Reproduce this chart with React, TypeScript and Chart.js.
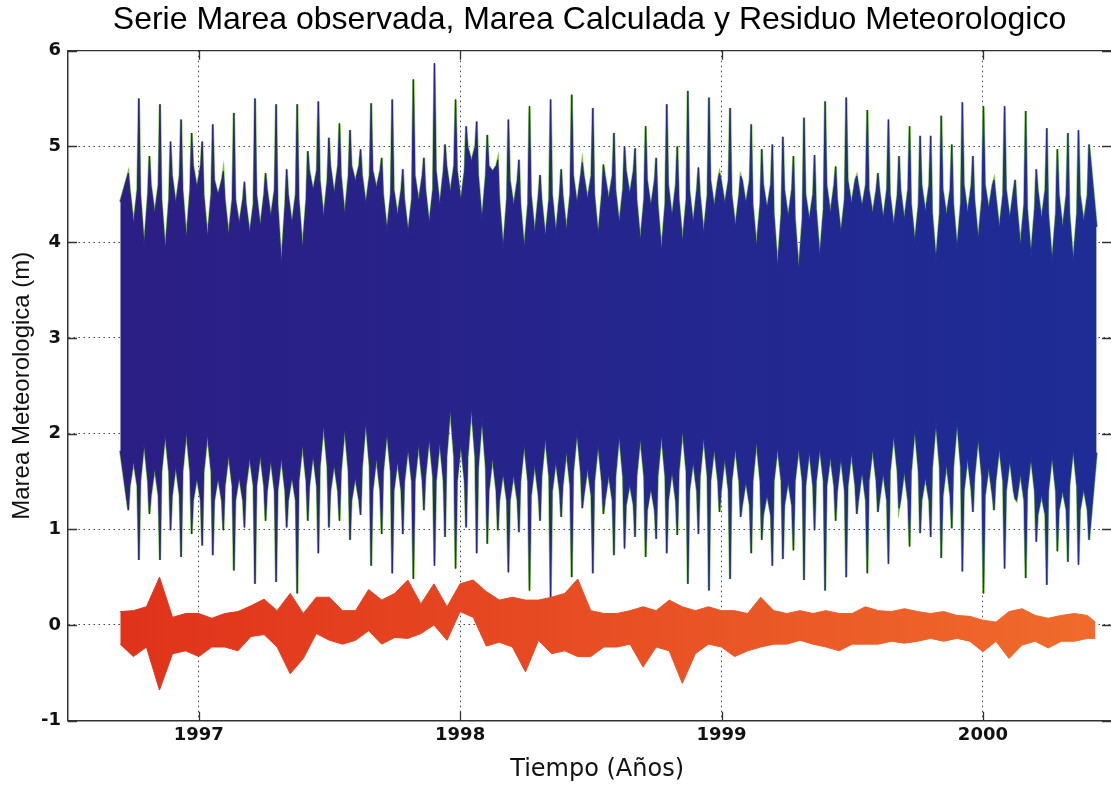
import { useEffect, useRef } from 'react';
import { Chart, registerables } from 'chart.js';

Chart.register(...registerables);

const TITLE = 'Serie Marea observada, Marea Calculada y Residuo Meteorologico';
const X_TITLE = 'Tiempo (Años)';
const Y_TITLE = 'Marea Meteorologica (m)';
const X_TICKS = [1997, 1998, 1999, 2000];
const Y_TICKS = [-1, 0, 1, 2, 3, 4, 5, 6];

// Observed tide (envelope of the dense record): spring-tide extremes, neap notches
// and the body level beside each spike
const TIDE_START = 1996.70;
const TIDE_END = 2000.435;
const FIRST_SPRING = 1996.7307;
const SPRING_STEP = 0.040388;
const HIGH_START = 4.42;
const HIGH_END = 4.16;
const LOW_START = 1.82;
const LOW_END = 1.8;

const highPeaks = [
  4.72, 5.5, 4.9, 5.44, 5.05, 5.28, 5.14, 5.05, 5.23, 4.74, 5.35, 4.63, 5.5, 4.72, 5.44, 4.76, 5.44, 4.95,
  5.47, 5.09, 5.24, 5.17, 4.97, 5.45, 4.88, 5.49, 4.76, 5.7, 4.88, 5.87, 5.02, 5.49, 5.21, 5.26, 5.12, 4.86,
  5.28, 4.86, 5.42, 4.7, 5.49, 4.76, 5.54, 4.83, 5.4, 4.81, 5.14, 5.0, 4.98, 5.21, 4.88, 5.44, 5.0, 5.58,
  4.78, 5.51, 4.72, 5.4, 4.69, 5.23, 4.97, 5.02, 5.1, 4.9, 5.3, 4.91, 5.47, 4.79, 5.51, 4.69, 5.38,
  4.72, 5.28, 4.9, 5.21, 5.11, 5.11, 5.32, 5.02, 5.46, 4.9, 5.42, 4.65, 5.42, 4.65, 5.37, 4.76, 5.19, 4.97,
  5.14, 5.17, 5.02,
];
const highNotches = [
  4.18, 3.95, 4.29, 3.9, 4.39, 4.02, 4.56, 4.04, 4.49, 4.06, 4.18, 4.08, 4.15, 4.25, 3.76, 4.18, 3.92, 4.53,
  4.25, 4.49, 4.27, 4.63, 4.39, 4.56, 4.11, 4.27, 4.09, 4.42, 4.18, 4.37, 4.51, 4.42, 4.84, 4.22, 4.74,
  3.92,
  4.37, 3.92, 4.08, 4.04, 4.08, 4.11, 4.39, 4.44, 4.06, 4.44, 4.18, 4.49, 4.0, 4.36, 3.9, 4.25, 3.99, 4.18,
  4.08, 4.36, 4.39, 4.15, 4.39, 3.94, 4.34, 3.73, 4.25, 3.69, 4.22, 3.83, 4.29, 4.08, 4.39, 4.36, 4.29,
  4.23, 4.16, 4.22, 3.99, 4.3, 3.8, 4.27, 3.92, 4.29, 4.01, 4.34, 4.13, 4.23, 3.95, 3.85, 4.23, 3.78, 4.13,
  3.78, 4.2,
];
const highShoulders = [
  4.55, 4.5, 4.6, 4.45, 4.7, 4.55, 4.8, 4.5, 4.65, 4.45, 4.45, 4.4, 4.5, 4.55, 4.4, 4.5, 4.45, 4.75,
  4.65, 4.8, 4.7, 4.8, 4.7, 4.75, 4.5, 4.55, 4.45, 4.7, 4.55, 4.75, 4.8, 4.75, 5.0, 4.7, 4.8,
  4.45,
  4.65, 4.4, 4.5, 4.45, 4.5, 4.5, 4.7, 4.7, 4.5, 4.7, 4.55, 4.75, 4.45, 4.65, 4.4, 4.6, 4.45, 4.55,
  4.5, 4.65, 4.65, 4.5, 4.65, 4.4, 4.6, 4.3, 4.55, 4.25, 4.5, 4.35, 4.6, 4.45, 4.65, 4.6, 4.55,
  4.55, 4.5, 4.55, 4.4, 4.6, 4.3, 4.55, 4.4, 4.6, 4.45, 4.6, 4.5, 4.55, 4.4, 4.35, 4.55, 4.3, 4.5,
  4.3, 4.5,
];
const lowPeaks = [
  1.2, 0.68, 1.16, 0.68, 0.99, 0.71, 0.95, 0.83, 0.73, 0.99, 0.57, 1.02, 0.43, 1.09, 0.45, 1.02, 0.33, 1.09,
  0.75, 1.02, 1.09, 0.89, 1.15, 0.62, 0.95, 0.54, 0.95, 0.48, 1.2, 0.62, 0.92, 0.59, 1.02, 0.75, 0.85, 0.99,
  0.55, 0.97, 0.36, 1.09, 0.26, 1.13, 0.5, 1.22, 0.54, 1.16, 0.73, 0.8, 0.92, 0.71, 0.9, 0.75, 0.94, 0.43,
  0.95, 0.36, 1.18, 0.48, 1.13, 0.75, 0.89, 0.62, 0.69, 0.78, 0.47, 0.99, 0.36, 1.09, 0.5, 1.16, 0.54,
  1.18, 0.64, 1.22, 0.82, 0.96, 0.92, 0.7, 1.01, 0.56, 1.18, 0.33, 1.2, 0.59, 1.32, 0.49, 0.87, 0.42, 0.77,
  0.66, 0.63, 0.89,
];
const lowNotches = [
  1.72, 1.91, 1.65, 2.0, 1.67, 2.03, 1.55, 2.0, 1.55, 1.79, 1.56, 1.76, 1.79, 1.74, 1.76, 1.56, 1.9, 1.79,
  2.1, 1.69, 2.07, 1.55, 2.14, 1.76, 2.03, 1.72, 1.86, 1.9, 1.97, 1.93, 2.28, 1.9, 2.28, 2.17, 1.76,
  1.6,
  1.58, 1.9, 1.69, 1.97, 1.72, 1.83, 2.03, 1.65, 1.9, 1.58, 2.0, 1.48, 1.97, 1.44, 2.0, 1.62, 2.05, 1.72,
  1.98, 1.86, 1.76, 1.86, 1.51, 1.93, 1.37, 1.86, 1.51, 1.86, 1.83, 1.86, 1.77, 1.76, 1.81, 1.62, 1.85,
  1.6, 2.0, 1.62, 2.06, 1.55, 2.13, 1.69, 2.14, 1.76, 1.97, 1.66, 1.86, 1.74, 1.59, 1.76, 1.36, 1.78, 1.41,
  1.85, 1.43,
];
const lowShoulders = [
  1.45, 1.5, 1.35, 1.6, 1.35, 1.6, 1.3, 1.6, 1.3, 1.45, 1.3, 1.45, 1.45, 1.4, 1.4, 1.3, 1.5, 1.45,
  1.65, 1.4, 1.6, 1.3, 1.65, 1.4, 1.6, 1.4, 1.5, 1.5, 1.55, 1.5, 1.75, 1.5, 1.75, 1.65, 1.4,
  1.3,
  1.3, 1.5, 1.35, 1.55, 1.4, 1.45, 1.6, 1.35, 1.5, 1.3, 1.55, 1.25, 1.55, 1.2, 1.55, 1.3, 1.6, 1.4,
  1.55, 1.5, 1.4, 1.5, 1.25, 1.5, 1.15, 1.5, 1.25, 1.5, 1.45, 1.5, 1.45, 1.4, 1.45, 1.3, 1.5,
  1.3, 1.6, 1.3, 1.6, 1.3, 1.65, 1.35, 1.65, 1.4, 1.55, 1.35, 1.5, 1.4, 1.3, 1.4, 1.15, 1.4, 1.2,
  1.45, 1.2,
];

// Meteorological residual (band edges), sampled every 0.05 year from 1996.70
const RES_START = 1996.7;
const RES_STEP = 0.05;
const RES_END_T = 2000.43;
const residualHigh = [
  0.14, 0.15, 0.19, 0.5, 0.08, 0.12, 0.12, 0.07, 0.12, 0.14, 0.2, 0.27, 0.15, 0.33, 0.12, 0.29, 0.29, 0.15,
  0.15, 0.37, 0.26, 0.33, 0.47, 0.22, 0.43, 0.19, 0.43, 0.47, 0.35, 0.26, 0.29, 0.26, 0.26, 0.29, 0.33, 0.48,
  0.15, 0.12, 0.12, 0.15, 0.19, 0.15, 0.26, 0.19, 0.15, 0.19, 0.15, 0.15, 0.12, 0.29, 0.15, 0.12, 0.15, 0.12,
  0.15, 0.12, 0.12, 0.19, 0.15, 0.14, 0.17, 0.14, 0.12, 0.14, 0.1, 0.09, 0.05, 0.03, 0.14, 0.17, 0.1, 0.07,
  0.1, 0.12, 0.1,
];
const residualLow = [
  -0.2, -0.33, -0.23, -0.68, -0.3, -0.27, -0.33, -0.23, -0.23, -0.27, -0.12, -0.1, -0.23, -0.51, -0.35, -0.09,
  -0.16, -0.2, -0.16, -0.06, -0.2, -0.13, -0.14, -0.09, 0.0, -0.16, 0.14, 0.08, -0.22, -0.18, -0.23, -0.49,
  -0.16, -0.3, -0.27, -0.33, -0.33, -0.23, -0.23, -0.2, -0.44, -0.23, -0.27, -0.61, -0.3, -0.2, -0.23, -0.33,
  -0.27, -0.23, -0.2, -0.2, -0.16, -0.2, -0.23, -0.27, -0.2, -0.2, -0.2, -0.17, -0.19, -0.17, -0.14, -0.17,
  -0.14, -0.17, -0.28, -0.17, -0.35, -0.21, -0.17, -0.24, -0.17, -0.17, -0.14,
];
const RES_END_HIGH = 0.03;
const RES_END_LOW = -0.14;

// fraction of a spring-neap half cycle taken by half a spike
const SPIKE_HALF = 0.13;

function envelope(start: number, peaks: number[], notches: number[], shoulders: number[], end: number) {
  const pts: { x: number; y: number }[] = [{ x: TIDE_START, y: start }];
  peaks.forEach((p, i) => {
    const t = FIRST_SPRING + i * SPRING_STEP;
    pts.push({ x: t, y: p });
    if (i < notches.length) {
      const s = shoulders[i];
      pts.push({ x: t + SPIKE_HALF * SPRING_STEP, y: s });
      pts.push({ x: t + 0.5 * SPRING_STEP, y: notches[i] });
      pts.push({ x: t + (1 - SPIKE_HALF) * SPRING_STEP, y: s });
    }
  });
  pts.push({ x: TIDE_END, y: end });
  return pts;
}

function residual(vals: number[], end: number) {
  const pts = vals.map((v, i) => ({ x: RES_START + i * RES_STEP, y: v }));
  pts.push({ x: RES_END_T, y: end });
  return pts;
}

function grad(from: string, to: string) {
  return (c: any) => {
    const ch = c.chart;
    const area = ch.chartArea;
    if (!area) return from;
    const g = ch.ctx.createLinearGradient(area.left + 50, 0, area.right - 10, 0);
    g.addColorStop(0, from);
    g.addColorStop(1, to);
    return g;
  };
}

const framePlugin = {
  id: 'frame',
  afterDatasetsDraw(chart: any) {
    const { ctx, chartArea, scales } = chart;
    const { left, right, top, bottom } = chartArea;
    ctx.save();
    ctx.strokeStyle = '#333';
    ctx.lineWidth = 1.3;
    ctx.beginPath();
    ctx.moveTo(left, top);
    ctx.lineTo(right, top);
    X_TICKS.forEach((v) => {
      const px = Math.round(scales.x.getPixelForValue(v)) + 0.5;
      ctx.moveTo(px, bottom);
      ctx.lineTo(px, bottom - 9);
      ctx.moveTo(px, top);
      ctx.lineTo(px, top + 9);
    });
    Y_TICKS.forEach((v) => {
      const py = Math.round(scales.y.getPixelForValue(v)) + 0.5;
      ctx.moveTo(left, py);
      ctx.lineTo(left + 9, py);
      ctx.moveTo(right, py);
      ctx.lineTo(right - 9, py);
    });
    ctx.stroke();
    ctx.restore();
  },
};

export default function App() {
  const ref = useRef<HTMLCanvasElement | null>(null);

  useEffect(() => {
    if (!ref.current) return;
    const highEnv = envelope(HIGH_START, highPeaks, highNotches, highShoulders, HIGH_END);
    const lowEnv = envelope(LOW_START, lowPeaks, lowNotches, lowShoulders, LOW_END);
    const resHi = residual(residualHigh, RES_END_HIGH);
    const resLo = residual(residualLow, RES_END_LOW);
    const blue = grad('#2b1e84', '#1e2c96');
    const red = grad('#e0321b', '#f06b2c');
    const green = '#7cc646';
    const common = { pointRadius: 0, pointHoverRadius: 0, tension: 0 };

    const chart = new Chart(ref.current, {
      type: 'line',
      data: {
        datasets: [
          { label: 'Residuo lo', data: resLo, borderColor: red, borderWidth: 1, fill: false, order: 0, ...common },
          { label: 'Residuo', data: resHi, borderColor: red, backgroundColor: red, borderWidth: 1, fill: '-1', order: 0, ...common },
          { label: 'Observada lo', data: lowEnv, borderColor: blue, borderWidth: 1, fill: false, order: 1, ...common },
          { label: 'Observada', data: highEnv, borderColor: blue, backgroundColor: blue, borderWidth: 1, fill: '-1', order: 1, ...common },
          { label: 'Calculada hi', data: highEnv, borderColor: green, borderWidth: 2.4, fill: false, order: 2, ...common },
          { label: 'Calculada lo', data: lowEnv, borderColor: green, borderWidth: 2.4, fill: false, order: 2, ...common },
        ],
      },
      options: {
        animation: false,
        responsive: false,
        devicePixelRatio: 1,
        events: [],
        layout: { padding: { left: 0, right: 0, top: 0, bottom: 0 } },
        plugins: {
          legend: { display: false },
          tooltip: { enabled: false },
          filler: { propagate: false },
          title: {
            display: true,
            text: TITLE,
            fullSize: false,
            color: '#000',
            font: { family: 'Liberation Sans', size: 32, weight: 'normal' },
            padding: { top: 1, bottom: 11.3 },
          },
        },
        scales: {
          x: {
            type: 'linear',
            min: 1996.5,
            max: 2000.49,
            afterBuildTicks: (s: any) => {
              s.ticks = X_TICKS.map((v) => ({ value: v }));
            },
            afterFit: (s: any) => {
              s.height = 64.3;
            },
            ticks: {
              autoSkip: false,
              maxRotation: 0,
              padding: 4,
              color: '#111',
              font: { family: 'DejaVu Sans', size: 18, weight: 'bold' },
              callback: (v: any) => String(v),
            },
            grid: { color: '#444', lineWidth: 1, drawTicks: false },
            border: { display: true, color: '#333', width: 1.5, dash: [1.5, 3.5] },
            title: {
              display: true,
              text: '  ' + X_TITLE,
              color: '#111',
              font: { family: 'DejaVu Sans', size: 24, weight: 'normal' },
              padding: { top: 0, bottom: 1 },
            },
          },
          y: {
            type: 'linear',
            min: -1,
            max: 6,
            afterBuildTicks: (s: any) => {
              s.ticks = Y_TICKS.map((v) => ({ value: v }));
            },
            afterFit: (s: any) => {
              s.width = 68;
            },
            ticks: {
              padding: 7,
              color: '#111',
              font: { family: 'DejaVu Sans', size: 18, weight: 'bold' },
              callback: (v: any) => String(v),
            },
            grid: { color: '#444', lineWidth: 1, drawTicks: false },
            border: { display: true, color: '#333', width: 1.5, dash: [1.5, 3.5] },
            title: {
              display: true,
              text: Y_TITLE,
              color: '#111',
              font: { family: 'Liberation Sans', size: 24, weight: 'normal' },
              padding: { top: 8, bottom: 0 },
            },
          },
        },
      },
      plugins: [framePlugin],
    } as any);

    return () => chart.destroy();
  }, []);

  return (
    <div style={{ position: 'absolute', left: 0, top: 0, width: 1111, height: 785, background: '#fff' }}>
      <canvas ref={ref} width={1111} height={785} style={{ display: 'block', width: 1111, height: 785 }} />
    </div>
  );
}
